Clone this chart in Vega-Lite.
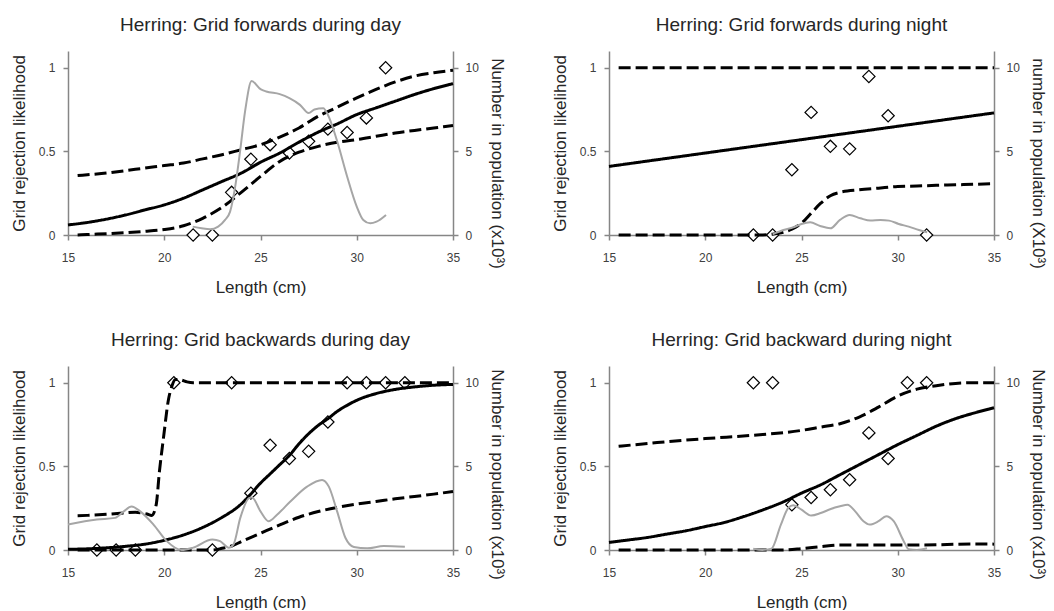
{
  "$schema": "https://vega.github.io/schema/vega-lite/v6.json",
  "padding": {"left": 10, "top": 16, "right": 0, "bottom": 0},
  "config": {
    "font": "Liberation Sans",
    "view": {"stroke": null},
    "axis": {"grid": false, "domainColor": "#868686", "domainWidth": 1.5, "tickColor": "#868686", "tickWidth": 1.5, "tickSize": 5, "labelFontSize": 12, "labelColor": "#404040", "labelFont": "Liberation Sans", "titleFont": "Liberation Sans", "titleFontSize": 17, "titleFontWeight": "normal", "titleColor": "#262626", "labelFlush": false},
    "title": {"fontSize": 19, "fontWeight": "normal", "color": "#262626", "offset": 16, "font": "Liberation Sans"}
  },
  "datasets": {
    "curves": [
      {"p":1,"s":"fit","x":15,"y":0.06},{"p":1,"s":"fit","x":16,"y":0.075},{"p":1,"s":"fit","x":17,"y":0.095},{"p":1,"s":"fit","x":18,"y":0.12},{"p":1,"s":"fit","x":19,"y":0.15},{"p":1,"s":"fit","x":20,"y":0.18},{"p":1,"s":"fit","x":21,"y":0.22},{"p":1,"s":"fit","x":22,"y":0.27},{"p":1,"s":"fit","x":23,"y":0.32},{"p":1,"s":"fit","x":24,"y":0.37},{"p":1,"s":"fit","x":25,"y":0.435},{"p":1,"s":"fit","x":26,"y":0.49},{"p":1,"s":"fit","x":27,"y":0.555},{"p":1,"s":"fit","x":28,"y":0.615},{"p":1,"s":"fit","x":29,"y":0.665},{"p":1,"s":"fit","x":30,"y":0.72},{"p":1,"s":"fit","x":31,"y":0.76},{"p":1,"s":"fit","x":32,"y":0.8},{"p":1,"s":"fit","x":33,"y":0.84},{"p":1,"s":"fit","x":34,"y":0.875},{"p":1,"s":"fit","x":35,"y":0.905},
      {"p":1,"s":"upper","x":15.5,"y":0.355},{"p":1,"s":"upper","x":16,"y":0.36},{"p":1,"s":"upper","x":17,"y":0.37},{"p":1,"s":"upper","x":18,"y":0.385},{"p":1,"s":"upper","x":19,"y":0.4},{"p":1,"s":"upper","x":20,"y":0.415},{"p":1,"s":"upper","x":21,"y":0.43},{"p":1,"s":"upper","x":22,"y":0.455},{"p":1,"s":"upper","x":23,"y":0.48},{"p":1,"s":"upper","x":24,"y":0.51},{"p":1,"s":"upper","x":25,"y":0.54},{"p":1,"s":"upper","x":26,"y":0.585},{"p":1,"s":"upper","x":27,"y":0.64},{"p":1,"s":"upper","x":28,"y":0.71},{"p":1,"s":"upper","x":29,"y":0.765},{"p":1,"s":"upper","x":30,"y":0.82},{"p":1,"s":"upper","x":31,"y":0.87},{"p":1,"s":"upper","x":32,"y":0.915},{"p":1,"s":"upper","x":33,"y":0.95},{"p":1,"s":"upper","x":34,"y":0.97},{"p":1,"s":"upper","x":35,"y":0.985},
      {"p":1,"s":"lower","x":15.5,"y":0.0},{"p":1,"s":"lower","x":16,"y":0.003},{"p":1,"s":"lower","x":17,"y":0.008},{"p":1,"s":"lower","x":18,"y":0.014},{"p":1,"s":"lower","x":19,"y":0.022},{"p":1,"s":"lower","x":20,"y":0.033},{"p":1,"s":"lower","x":21,"y":0.055},{"p":1,"s":"lower","x":22,"y":0.1},{"p":1,"s":"lower","x":23,"y":0.165},{"p":1,"s":"lower","x":24,"y":0.255},{"p":1,"s":"lower","x":25,"y":0.35},{"p":1,"s":"lower","x":26,"y":0.44},{"p":1,"s":"lower","x":27,"y":0.495},{"p":1,"s":"lower","x":28,"y":0.53},{"p":1,"s":"lower","x":29,"y":0.555},{"p":1,"s":"lower","x":30,"y":0.57},{"p":1,"s":"lower","x":31,"y":0.59},{"p":1,"s":"lower","x":32,"y":0.61},{"p":1,"s":"lower","x":33,"y":0.625},{"p":1,"s":"lower","x":34,"y":0.64},{"p":1,"s":"lower","x":35,"y":0.655},
      {"p":2,"s":"fit","x":15,"y":0.41},{"p":2,"s":"fit","x":17.5,"y":0.45},{"p":2,"s":"fit","x":20,"y":0.49},{"p":2,"s":"fit","x":22.5,"y":0.53},{"p":2,"s":"fit","x":25,"y":0.57},{"p":2,"s":"fit","x":27.5,"y":0.61},{"p":2,"s":"fit","x":30,"y":0.65},{"p":2,"s":"fit","x":32.5,"y":0.69},{"p":2,"s":"fit","x":35,"y":0.73},
      {"p":2,"s":"upper","x":15.5,"y":1},{"p":2,"s":"upper","x":20,"y":1},{"p":2,"s":"upper","x":25,"y":1},{"p":2,"s":"upper","x":30,"y":1},{"p":2,"s":"upper","x":35,"y":1},
      {"p":2,"s":"lower","x":15.5,"y":0},{"p":2,"s":"lower","x":20,"y":0},{"p":2,"s":"lower","x":23,"y":0},{"p":2,"s":"lower","x":23.5,"y":0.005},{"p":2,"s":"lower","x":24,"y":0.015},{"p":2,"s":"lower","x":24.5,"y":0.035},{"p":2,"s":"lower","x":25,"y":0.07},{"p":2,"s":"lower","x":25.5,"y":0.13},{"p":2,"s":"lower","x":26,"y":0.19},{"p":2,"s":"lower","x":26.5,"y":0.235},{"p":2,"s":"lower","x":27,"y":0.255},{"p":2,"s":"lower","x":28,"y":0.27},{"p":2,"s":"lower","x":29,"y":0.28},{"p":2,"s":"lower","x":30,"y":0.29},{"p":2,"s":"lower","x":31,"y":0.293},{"p":2,"s":"lower","x":32,"y":0.297},{"p":2,"s":"lower","x":33,"y":0.3},{"p":2,"s":"lower","x":34,"y":0.303},{"p":2,"s":"lower","x":35,"y":0.307},
      {"p":3,"s":"fit","x":15,"y":0.004},{"p":3,"s":"fit","x":16,"y":0.007},{"p":3,"s":"fit","x":17,"y":0.013},{"p":3,"s":"fit","x":18,"y":0.022},{"p":3,"s":"fit","x":19,"y":0.035},{"p":3,"s":"fit","x":20,"y":0.058},{"p":3,"s":"fit","x":21,"y":0.09},{"p":3,"s":"fit","x":22,"y":0.135},{"p":3,"s":"fit","x":23,"y":0.195},{"p":3,"s":"fit","x":24,"y":0.275},{"p":3,"s":"fit","x":24.5,"y":0.335},{"p":3,"s":"fit","x":25,"y":0.4},{"p":3,"s":"fit","x":25.5,"y":0.455},{"p":3,"s":"fit","x":26,"y":0.51},{"p":3,"s":"fit","x":26.5,"y":0.565},{"p":3,"s":"fit","x":27,"y":0.635},{"p":3,"s":"fit","x":27.5,"y":0.695},{"p":3,"s":"fit","x":28,"y":0.745},{"p":3,"s":"fit","x":28.5,"y":0.785},{"p":3,"s":"fit","x":29,"y":0.83},{"p":3,"s":"fit","x":29.5,"y":0.865},{"p":3,"s":"fit","x":30,"y":0.895},{"p":3,"s":"fit","x":31,"y":0.935},{"p":3,"s":"fit","x":32,"y":0.96},{"p":3,"s":"fit","x":33,"y":0.975},{"p":3,"s":"fit","x":34,"y":0.985},{"p":3,"s":"fit","x":35,"y":0.99},
      {"p":3,"s":"upper","x":15.5,"y":0.205},{"p":3,"s":"upper","x":16,"y":0.207},{"p":3,"s":"upper","x":17,"y":0.213},{"p":3,"s":"upper","x":18,"y":0.222},{"p":3,"s":"upper","x":18.5,"y":0.226},{"p":3,"s":"upper","x":19.1,"y":0.215},{"p":3,"s":"upper","x":19.35,"y":0.207},{"p":3,"s":"upper","x":19.58,"y":0.27},{"p":3,"s":"upper","x":19.75,"y":0.47},{"p":3,"s":"upper","x":19.96,"y":0.67},{"p":3,"s":"upper","x":20.22,"y":0.9},{"p":3,"s":"upper","x":20.4,"y":0.98},{"p":3,"s":"upper","x":20.57,"y":1.02},{"p":3,"s":"upper","x":20.83,"y":1.018},{"p":3,"s":"upper","x":21.18,"y":1.005},{"p":3,"s":"upper","x":21.5,"y":1.0},{"p":3,"s":"upper","x":25,"y":1.0},{"p":3,"s":"upper","x":30,"y":1.0},{"p":3,"s":"upper","x":35,"y":1.0},
      {"p":3,"s":"lower","x":15.5,"y":0},{"p":3,"s":"lower","x":20,"y":0},{"p":3,"s":"lower","x":22.5,"y":0.0},{"p":3,"s":"lower","x":23,"y":0.01},{"p":3,"s":"lower","x":23.5,"y":0.024},{"p":3,"s":"lower","x":24,"y":0.05},{"p":3,"s":"lower","x":25,"y":0.1},{"p":3,"s":"lower","x":26,"y":0.15},{"p":3,"s":"lower","x":27,"y":0.196},{"p":3,"s":"lower","x":28,"y":0.23},{"p":3,"s":"lower","x":29,"y":0.255},{"p":3,"s":"lower","x":30,"y":0.275},{"p":3,"s":"lower","x":31,"y":0.29},{"p":3,"s":"lower","x":32,"y":0.306},{"p":3,"s":"lower","x":33,"y":0.32},{"p":3,"s":"lower","x":34,"y":0.334},{"p":3,"s":"lower","x":35,"y":0.35},
      {"p":4,"s":"fit","x":15,"y":0.045},{"p":4,"s":"fit","x":16,"y":0.06},{"p":4,"s":"fit","x":17,"y":0.075},{"p":4,"s":"fit","x":18,"y":0.095},{"p":4,"s":"fit","x":19,"y":0.115},{"p":4,"s":"fit","x":20,"y":0.14},{"p":4,"s":"fit","x":21,"y":0.165},{"p":4,"s":"fit","x":22,"y":0.2},{"p":4,"s":"fit","x":23,"y":0.24},{"p":4,"s":"fit","x":24,"y":0.285},{"p":4,"s":"fit","x":25,"y":0.34},{"p":4,"s":"fit","x":26,"y":0.39},{"p":4,"s":"fit","x":27,"y":0.45},{"p":4,"s":"fit","x":28,"y":0.51},{"p":4,"s":"fit","x":29,"y":0.57},{"p":4,"s":"fit","x":30,"y":0.63},{"p":4,"s":"fit","x":31,"y":0.685},{"p":4,"s":"fit","x":32,"y":0.74},{"p":4,"s":"fit","x":33,"y":0.785},{"p":4,"s":"fit","x":34,"y":0.82},{"p":4,"s":"fit","x":35,"y":0.85},
      {"p":4,"s":"upper","x":15.5,"y":0.62},{"p":4,"s":"upper","x":17.5,"y":0.642},{"p":4,"s":"upper","x":20,"y":0.666},{"p":4,"s":"upper","x":22.5,"y":0.686},{"p":4,"s":"upper","x":25,"y":0.715},{"p":4,"s":"upper","x":26,"y":0.735},{"p":4,"s":"upper","x":27,"y":0.755},{"p":4,"s":"upper","x":28,"y":0.795},{"p":4,"s":"upper","x":29,"y":0.854},{"p":4,"s":"upper","x":30,"y":0.92},{"p":4,"s":"upper","x":31,"y":0.962},{"p":4,"s":"upper","x":32,"y":0.982},{"p":4,"s":"upper","x":33,"y":0.996},{"p":4,"s":"upper","x":34,"y":1.0},{"p":4,"s":"upper","x":35,"y":1.0},
      {"p":4,"s":"lower","x":15.5,"y":0},{"p":4,"s":"lower","x":20,"y":0},{"p":4,"s":"lower","x":24,"y":0.0},{"p":4,"s":"lower","x":25,"y":0.008},{"p":4,"s":"lower","x":26,"y":0.02},{"p":4,"s":"lower","x":27,"y":0.03},{"p":4,"s":"lower","x":28,"y":0.03},{"p":4,"s":"lower","x":29,"y":0.03},{"p":4,"s":"lower","x":30,"y":0.03},{"p":4,"s":"lower","x":31,"y":0.03},{"p":4,"s":"lower","x":32,"y":0.031},{"p":4,"s":"lower","x":33,"y":0.034},{"p":4,"s":"lower","x":34,"y":0.036},{"p":4,"s":"lower","x":35,"y":0.035}
    ],
    "obs": [
      {"p":1,"x":21.5,"y":0},{"p":1,"x":22.5,"y":0},{"p":1,"x":23.5,"y":0.255},{"p":1,"x":24.5,"y":0.453},{"p":1,"x":25.5,"y":0.54},{"p":1,"x":26.5,"y":0.49},{"p":1,"x":27.5,"y":0.56},{"p":1,"x":28.5,"y":0.633},{"p":1,"x":29.5,"y":0.613},{"p":1,"x":30.5,"y":0.7},{"p":1,"x":31.5,"y":1.0},
      {"p":2,"x":22.5,"y":0},{"p":2,"x":23.5,"y":0},{"p":2,"x":24.5,"y":0.39},{"p":2,"x":25.5,"y":0.733},{"p":2,"x":26.5,"y":0.53},{"p":2,"x":27.5,"y":0.515},{"p":2,"x":28.5,"y":0.948},{"p":2,"x":29.5,"y":0.713},{"p":2,"x":31.5,"y":0},
      {"p":3,"x":16.5,"y":0},{"p":3,"x":17.5,"y":0},{"p":3,"x":18.5,"y":0},{"p":3,"x":20.5,"y":1},{"p":3,"x":22.5,"y":0},{"p":3,"x":23.5,"y":1},{"p":3,"x":24.5,"y":0.34},{"p":3,"x":25.5,"y":0.626},{"p":3,"x":26.5,"y":0.547},{"p":3,"x":27.5,"y":0.59},{"p":3,"x":28.5,"y":0.765},{"p":3,"x":29.5,"y":1},{"p":3,"x":30.5,"y":1},{"p":3,"x":31.5,"y":1},{"p":3,"x":32.5,"y":1},
      {"p":4,"x":22.5,"y":1},{"p":4,"x":23.5,"y":1},{"p":4,"x":24.5,"y":0.27},{"p":4,"x":25.5,"y":0.314},{"p":4,"x":26.5,"y":0.36},{"p":4,"x":27.5,"y":0.42},{"p":4,"x":28.5,"y":0.7},{"p":4,"x":29.5,"y":0.547},{"p":4,"x":30.5,"y":1},{"p":4,"x":31.5,"y":1}
    ],
    "pop": [
      {"p":1,"x":21.48,"n":0.5},{"p":1,"x":21.94,"n":0.4},{"p":1,"x":22.38,"n":0.34},{"p":1,"x":22.8,"n":0.5},{"p":1,"x":23.16,"n":0.9},{"p":1,"x":23.42,"n":1.4},{"p":1,"x":23.7,"n":3.0},{"p":1,"x":23.95,"n":5.1},{"p":1,"x":24.2,"n":7.4},{"p":1,"x":24.54,"n":9.2},{"p":1,"x":25,"n":8.72},{"p":1,"x":25.3,"n":8.58},{"p":1,"x":26,"n":8.42},{"p":1,"x":26.5,"n":8.18},{"p":1,"x":27.05,"n":7.78},{"p":1,"x":27.5,"n":7.29},{"p":1,"x":27.8,"n":7.5},{"p":1,"x":28.26,"n":7.58},{"p":1,"x":28.5,"n":7.19},{"p":1,"x":28.96,"n":5.69},{"p":1,"x":29.5,"n":3.5},{"p":1,"x":30,"n":1.7},{"p":1,"x":30.34,"n":0.9},{"p":1,"x":30.7,"n":0.7},{"p":1,"x":31.03,"n":0.8},{"p":1,"x":31.52,"n":1.2},
      {"p":2,"x":23.5,"n":0.04},{"p":2,"x":24.06,"n":0.3},{"p":2,"x":24.58,"n":0.46},{"p":2,"x":25.0,"n":0.66},{"p":2,"x":25.45,"n":0.76},{"p":2,"x":25.97,"n":0.54},{"p":2,"x":26.5,"n":0.4},{"p":2,"x":27.0,"n":0.9},{"p":2,"x":27.5,"n":1.2},{"p":2,"x":28.06,"n":1.0},{"p":2,"x":28.58,"n":0.86},{"p":2,"x":29.1,"n":0.9},{"p":2,"x":29.55,"n":0.86},{"p":2,"x":30.05,"n":0.66},{"p":2,"x":30.57,"n":0.5},{"p":2,"x":31.1,"n":0.3},{"p":2,"x":31.53,"n":0.16},
      {"p":3,"x":15,"n":1.52},{"p":3,"x":16.5,"n":1.82},{"p":3,"x":17.45,"n":1.92},{"p":3,"x":17.9,"n":2.31},{"p":3,"x":18.3,"n":2.6},{"p":3,"x":18.75,"n":2.31},{"p":3,"x":19.44,"n":1.52},{"p":3,"x":20.13,"n":0.53},{"p":3,"x":20.9,"n":0},{"p":3,"x":21.5,"n":0.14},{"p":3,"x":22.5,"n":0.63},{"p":3,"x":22.9,"n":0.53},{"p":3,"x":23.35,"n":0.14},{"p":3,"x":23.6,"n":0.34},{"p":3,"x":23.95,"n":1.92},{"p":3,"x":24.4,"n":3.1},{"p":3,"x":24.56,"n":3.14},{"p":3,"x":25,"n":2.31},{"p":3,"x":25.42,"n":1.72},{"p":3,"x":25.86,"n":2.11},{"p":3,"x":26.55,"n":2.9},{"p":3,"x":27.42,"n":3.79},{"p":3,"x":28.2,"n":4.19},{"p":3,"x":28.55,"n":3.79},{"p":3,"x":28.98,"n":2.31},{"p":3,"x":29.41,"n":0.73},{"p":3,"x":29.85,"n":0.18},{"p":3,"x":30.54,"n":0.1},{"p":3,"x":31.4,"n":0.24},{"p":3,"x":32.5,"n":0.2},
      {"p":4,"x":22.49,"n":0.08},{"p":4,"x":22.96,"n":0},{"p":4,"x":23.44,"n":0.08},{"p":4,"x":23.93,"n":1.52},{"p":4,"x":24.31,"n":2.51},{"p":4,"x":24.57,"n":2.67},{"p":4,"x":25.0,"n":2.41},{"p":4,"x":25.5,"n":2.06},{"p":4,"x":26.0,"n":2.21},{"p":4,"x":26.52,"n":2.45},{"p":4,"x":27.0,"n":2.61},{"p":4,"x":27.39,"n":2.71},{"p":4,"x":27.79,"n":2.31},{"p":4,"x":28.22,"n":1.72},{"p":4,"x":28.54,"n":1.52},{"p":4,"x":29.0,"n":1.72},{"p":4,"x":29.4,"n":2.02},{"p":4,"x":29.79,"n":1.72},{"p":4,"x":30.31,"n":0.53},{"p":4,"x":30.57,"n":0.04},{"p":4,"x":31.0,"n":0},{"p":4,"x":31.52,"n":0.1}
    ]
  },
  "columns": 2,
  "spacing": {"row": 36, "column": 45},
  "concat": [
    {
      "title": "Herring: Grid forwards during day",
      "width": 385, "height": 184,
      "encoding": {"x": {"field": "x", "type": "quantitative", "scale": {"domain": [15, 35], "nice": false}, "axis": {"values": [15, 20, 25, 30, 35], "title": "Length (cm)", "labelPadding": 12, "titlePadding": 16}}},
      "layer": [
        {"layer": [
          {"data": {"name": "obs"}, "transform": [{"filter": "datum.p == 1"}], "mark": {"type": "point", "shape": "diamond", "filled": true, "fill": "white", "stroke": "black", "strokeWidth": 1.2, "size": 150, "opacity": 1},
           "encoding": {"y": {"field": "y", "type": "quantitative", "scale": {"domain": [0, 1.1], "nice": false}, "axis": {"values": [0, 0.5, 1], "format": "~g", "title": "Grid rejection likelihood", "labelPadding": 8, "titlePadding": 10}}}},
          {"data": {"name": "curves"}, "transform": [{"filter": "datum.p == 1"}], "mark": {"type": "line", "color": "black", "strokeWidth": 3, "interpolate": "monotone"},
           "encoding": {"y": {"field": "y", "type": "quantitative"}, "strokeDash": {"field": "s", "type": "nominal", "scale": {"domain": ["fit", "upper", "lower"], "range": [[1, 0], [12, 5], [12, 5]]}, "legend": null}}}
        ]},
        {"data": {"name": "pop"}, "transform": [{"filter": "datum.p == 1"}], "mark": {"type": "line", "color": "#a6a6a6", "strokeWidth": 2, "interpolate": "monotone"},
         "encoding": {"y": {"field": "n", "type": "quantitative", "scale": {"domain": [0, 11], "nice": false}, "axis": {"orient": "right", "values": [0, 5, 10], "title": "Number in population (x10³)", "labelPadding": 7, "titlePadding": 9, "titleY": 112}}}}
      ],
      "resolve": {"scale": {"y": "independent"}}
    },
    {
      "title": "Herring: Grid forwards during night",
      "width": 385, "height": 184,
      "encoding": {"x": {"field": "x", "type": "quantitative", "scale": {"domain": [15, 35], "nice": false}, "axis": {"values": [15, 20, 25, 30, 35], "title": "Length (cm)", "labelPadding": 12, "titlePadding": 16}}},
      "layer": [
        {"layer": [
          {"data": {"name": "obs"}, "transform": [{"filter": "datum.p == 2"}], "mark": {"type": "point", "shape": "diamond", "filled": true, "fill": "white", "stroke": "black", "strokeWidth": 1.2, "size": 150, "opacity": 1},
           "encoding": {"y": {"field": "y", "type": "quantitative", "scale": {"domain": [0, 1.1], "nice": false}, "axis": {"values": [0, 0.5, 1], "format": "~g", "title": "Grid rejection likelihood", "labelPadding": 8, "titlePadding": 10}}}},
          {"data": {"name": "curves"}, "transform": [{"filter": "datum.p == 2"}], "mark": {"type": "line", "color": "black", "strokeWidth": 3, "interpolate": "monotone"},
           "encoding": {"y": {"field": "y", "type": "quantitative"}, "strokeDash": {"field": "s", "type": "nominal", "scale": {"domain": ["fit", "upper", "lower"], "range": [[1, 0], [12, 5], [12, 5]]}, "legend": null}}}
        ]},
        {"data": {"name": "pop"}, "transform": [{"filter": "datum.p == 2"}], "mark": {"type": "line", "color": "#a6a6a6", "strokeWidth": 2, "interpolate": "monotone"},
         "encoding": {"y": {"field": "n", "type": "quantitative", "scale": {"domain": [0, 11], "nice": false}, "axis": {"orient": "right", "values": [0, 5, 10], "title": "number in population (X10³)", "labelPadding": 7, "titlePadding": 9, "titleY": 112}}}}
      ],
      "resolve": {"scale": {"y": "independent"}}
    },
    {
      "title": "Herring: Grid backwards during day",
      "width": 385, "height": 184,
      "encoding": {"x": {"field": "x", "type": "quantitative", "scale": {"domain": [15, 35], "nice": false}, "axis": {"values": [15, 20, 25, 30, 35], "title": "Length (cm)", "labelPadding": 12, "titlePadding": 16}}},
      "layer": [
        {"layer": [
          {"data": {"name": "obs"}, "transform": [{"filter": "datum.p == 3"}], "mark": {"type": "point", "shape": "diamond", "filled": true, "fill": "white", "stroke": "black", "strokeWidth": 1.2, "size": 150, "opacity": 1},
           "encoding": {"y": {"field": "y", "type": "quantitative", "scale": {"domain": [0, 1.1], "nice": false}, "axis": {"values": [0, 0.5, 1], "format": "~g", "title": "Grid rejection likelihood", "labelPadding": 8, "titlePadding": 10}}}},
          {"data": {"name": "curves"}, "transform": [{"filter": "datum.p == 3"}], "mark": {"type": "line", "color": "black", "strokeWidth": 3, "interpolate": "monotone"},
           "encoding": {"y": {"field": "y", "type": "quantitative"}, "strokeDash": {"field": "s", "type": "nominal", "scale": {"domain": ["fit", "upper", "lower"], "range": [[1, 0], [12, 5], [12, 5]]}, "legend": null}}}
        ]},
        {"data": {"name": "pop"}, "transform": [{"filter": "datum.p == 3"}], "mark": {"type": "line", "color": "#a6a6a6", "strokeWidth": 2, "interpolate": "monotone"},
         "encoding": {"y": {"field": "n", "type": "quantitative", "scale": {"domain": [0, 11], "nice": false}, "axis": {"orient": "right", "values": [0, 5, 10], "title": "Number in population (x10³)", "labelPadding": 7, "titlePadding": 9, "titleY": 108}}}}
      ],
      "resolve": {"scale": {"y": "independent"}}
    },
    {
      "title": "Herring: Grid backward during night",
      "width": 385, "height": 184,
      "encoding": {"x": {"field": "x", "type": "quantitative", "scale": {"domain": [15, 35], "nice": false}, "axis": {"values": [15, 20, 25, 30, 35], "title": "Length (cm)", "labelPadding": 12, "titlePadding": 16}}},
      "layer": [
        {"layer": [
          {"data": {"name": "obs"}, "transform": [{"filter": "datum.p == 4"}], "mark": {"type": "point", "shape": "diamond", "filled": true, "fill": "white", "stroke": "black", "strokeWidth": 1.2, "size": 150, "opacity": 1},
           "encoding": {"y": {"field": "y", "type": "quantitative", "scale": {"domain": [0, 1.1], "nice": false}, "axis": {"values": [0, 0.5, 1], "format": "~g", "title": "Grid rejection likelihood", "labelPadding": 8, "titlePadding": 10}}}},
          {"data": {"name": "curves"}, "transform": [{"filter": "datum.p == 4"}], "mark": {"type": "line", "color": "black", "strokeWidth": 3, "interpolate": "monotone"},
           "encoding": {"y": {"field": "y", "type": "quantitative"}, "strokeDash": {"field": "s", "type": "nominal", "scale": {"domain": ["fit", "upper", "lower"], "range": [[1, 0], [12, 5], [12, 5]]}, "legend": null}}}
        ]},
        {"data": {"name": "pop"}, "transform": [{"filter": "datum.p == 4"}], "mark": {"type": "line", "color": "#a6a6a6", "strokeWidth": 2, "interpolate": "monotone"},
         "encoding": {"y": {"field": "n", "type": "quantitative", "scale": {"domain": [0, 11], "nice": false}, "axis": {"orient": "right", "values": [0, 5, 10], "title": "Number in population (x10³)", "labelPadding": 7, "titlePadding": 9, "titleY": 108}}}}
      ],
      "resolve": {"scale": {"y": "independent"}}
    }
  ]
}
